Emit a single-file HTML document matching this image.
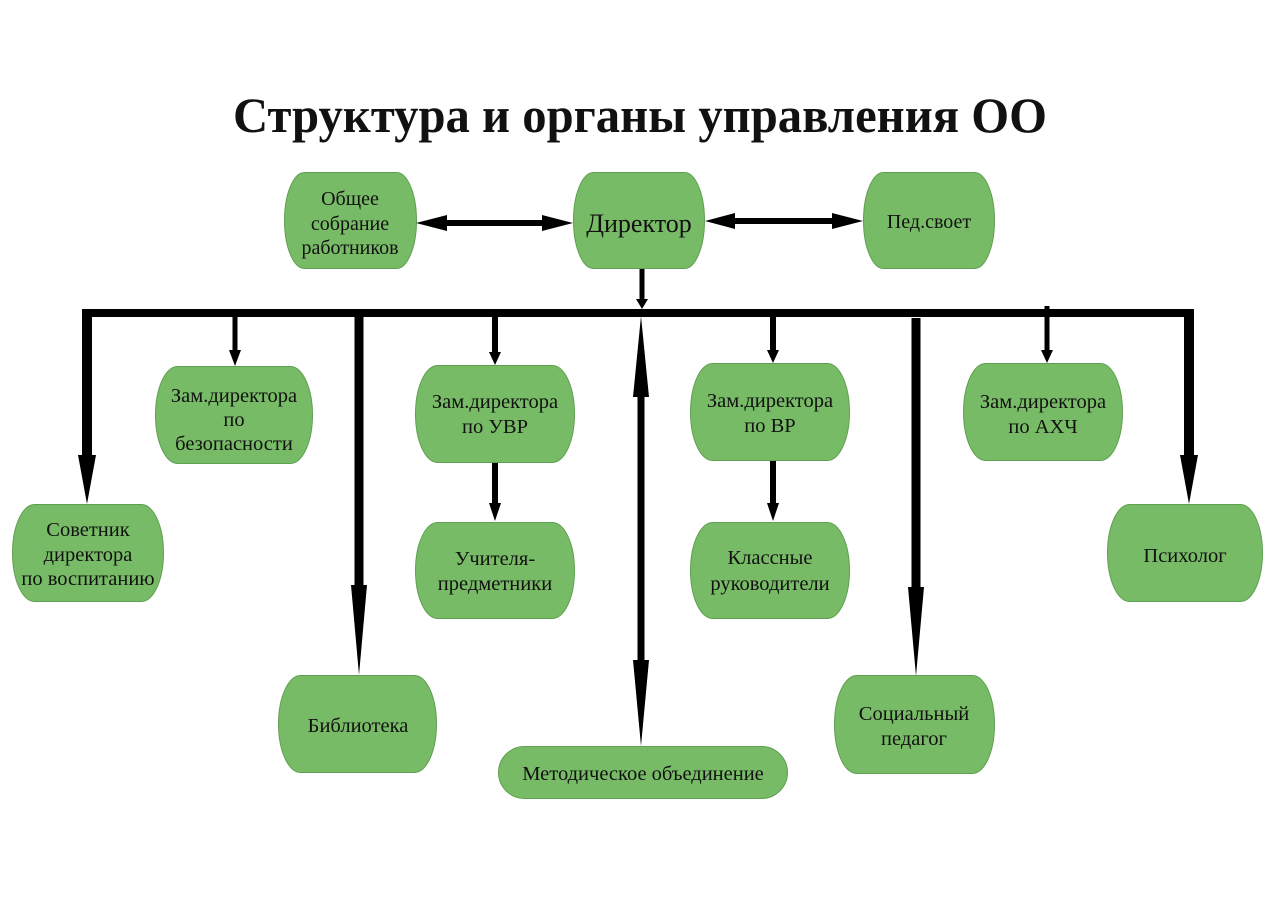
<!DOCTYPE html>
<html>
<head>
<meta charset="utf-8">
<style>
  html, body { margin:0; padding:0; background:#ffffff; }
  svg { display:block; }
  .t { font-family: "Liberation Serif", "DejaVu Serif", serif; fill:#111; text-anchor:middle; }
  .b { fill:#78bb66; stroke:#5f9f50; stroke-width:1; }
</style>
</head>
<body>
<svg width="1280" height="905" viewBox="0 0 1280 905" xmlns="http://www.w3.org/2000/svg">
  <rect x="0" y="0" width="1280" height="905" fill="#ffffff"/>

  <!-- Title -->
  <text class="t" x="640" y="132" font-size="50" font-weight="bold" textLength="814" lengthAdjust="spacingAndGlyphs">Структура и органы управления ОО</text>

  <!-- Top row boxes -->
  <rect class="b" x="284.5" y="172.5" width="132" height="96" rx="20" ry="48"/>
  <text class="t" font-size="20" x="350" y="205">Общее</text>
  <text class="t" font-size="20" x="350" y="230">собрание</text>
  <text class="t" font-size="20" x="350" y="254">работников</text>

  <rect class="b" x="573.5" y="172.5" width="131" height="96" rx="20" ry="48"/>
  <text class="t" font-size="26" x="639" y="232">Директор</text>

  <rect class="b" x="863.5" y="172.5" width="131" height="96" rx="20" ry="48"/>
  <text class="t" font-size="20" x="929" y="228">Пед.своет</text>

  <!-- Horizontal double arrows -->
  <polygon fill="#000" points="416,223 447,215 447,220 542,220 542,215 573,223 542,231 542,226 447,226 447,231"/>
  <polygon fill="#000" points="705,221 735,213 735,218 832,218 832,213 863,221 832,229 832,224 735,224 735,229"/>

  <!-- Director down arrow -->
  <polygon fill="#000" points="639.5,269 644.5,269 644.5,299 648,299 642,309 636,299 639.5,299"/>

  <!-- Bus -->
  <rect x="82" y="309" width="1112" height="8" fill="#000"/>

  <!-- Left vertical to Советник -->
  <polygon fill="#000" points="82,309 92,309 92,455 96,455 87,504 78,455 82,455"/>
  <!-- Безопасность -->
  <polygon fill="#000" points="232.5,313 237.5,313 237.5,350 241,350 235,366 229,350 232.5,350"/>
  <!-- Библиотека -->
  <polygon fill="#000" points="354.5,313 363.5,313 363.5,585 367,585 359,675 351,585 354.5,585"/>
  <!-- УВР -->
  <polygon fill="#000" points="492,313 498,313 498,352 501,352 495,365 489,352 492,352"/>
  <!-- УВР -> Учителя -->
  <polygon fill="#000" points="492,462 498,462 498,503 501,503 495,521 489,503 492,503"/>
  <!-- Central double arrow -->
  <polygon fill="#000" points="641,316 649,397 644.5,397 644.5,660 649,660 641,746 633,660 637.5,660 637.5,397 633,397"/>
  <!-- ВР -->
  <polygon fill="#000" points="770,313 776,313 776,350 779,350 773,363 767,350 770,350"/>
  <!-- ВР -> Классные -->
  <polygon fill="#000" points="770,461 776,461 776,503 779,503 773,521 767,503 770,503"/>
  <!-- Социальный -->
  <polygon fill="#000" points="911.5,318 920.5,318 920.5,587 924,587 916,676 908,587 911.5,587"/>
  <!-- АХЧ -->
  <polygon fill="#000" points="1044.5,306 1049.5,306 1049.5,350 1053,350 1047,363 1041,350 1044.5,350"/>
  <!-- Right vertical to Психолог -->
  <polygon fill="#000" points="1184,309 1194,309 1194,455 1198,455 1189,504 1180,455 1184,455"/>

  <!-- Second row boxes -->
  <rect class="b" x="155.5" y="366.5" width="157" height="97" rx="22" ry="48.5"/>
  <text class="t" font-size="20.5" x="234" y="402">Зам.директора</text>
  <text class="t" font-size="20.5" x="234" y="426">по</text>
  <text class="t" font-size="20.5" x="234" y="450">безопасности</text>

  <rect class="b" x="415.5" y="365.5" width="159" height="97" rx="22" ry="48.5"/>
  <text class="t" font-size="20.5" x="495" y="408">Зам.директора</text>
  <text class="t" font-size="20.5" x="495" y="433">по УВР</text>

  <rect class="b" x="690.5" y="363.5" width="159" height="97" rx="22" ry="48.5"/>
  <text class="t" font-size="20.5" x="770" y="407">Зам.директора</text>
  <text class="t" font-size="20.5" x="770" y="432">по ВР</text>

  <rect class="b" x="963.5" y="363.5" width="159" height="97" rx="22" ry="48.5"/>
  <text class="t" font-size="20.5" x="1043" y="408">Зам.директора</text>
  <text class="t" font-size="20.5" x="1043" y="433">по АХЧ</text>

  <!-- Third row -->
  <rect class="b" x="12.5" y="504.5" width="151" height="97" rx="22" ry="48.5"/>
  <text class="t" font-size="20.5" x="88" y="536">Советник</text>
  <text class="t" font-size="20.5" x="88" y="561">директора</text>
  <text class="t" font-size="20.5" x="88" y="585">по воспитанию</text>

  <rect class="b" x="415.5" y="522.5" width="159" height="96" rx="22" ry="48"/>
  <text class="t" font-size="20.5" x="495" y="565">Учителя-</text>
  <text class="t" font-size="20.5" x="495" y="590">предметники</text>

  <rect class="b" x="690.5" y="522.5" width="159" height="96" rx="22" ry="48"/>
  <text class="t" font-size="20.5" x="770" y="564">Классные</text>
  <text class="t" font-size="20.5" x="770" y="590">руководители</text>

  <rect class="b" x="1107.5" y="504.5" width="155" height="97" rx="22" ry="48.5"/>
  <text class="t" font-size="20.5" x="1185" y="562">Психолог</text>

  <!-- Bottom row -->
  <rect class="b" x="278.5" y="675.5" width="158" height="97" rx="22" ry="48.5"/>
  <text class="t" font-size="20.5" x="358" y="732">Библиотека</text>

  <rect class="b" x="834.5" y="675.5" width="160" height="98" rx="22" ry="49"/>
  <text class="t" font-size="20.5" x="914" y="720">Социальный</text>
  <text class="t" font-size="20.5" x="914" y="745">педагог</text>

  <rect class="b" x="498.5" y="746.5" width="289" height="52" rx="26" ry="26"/>
  <text class="t" font-size="20.5" x="643" y="780">Методическое объединение</text>
</svg>
</body>
</html>
